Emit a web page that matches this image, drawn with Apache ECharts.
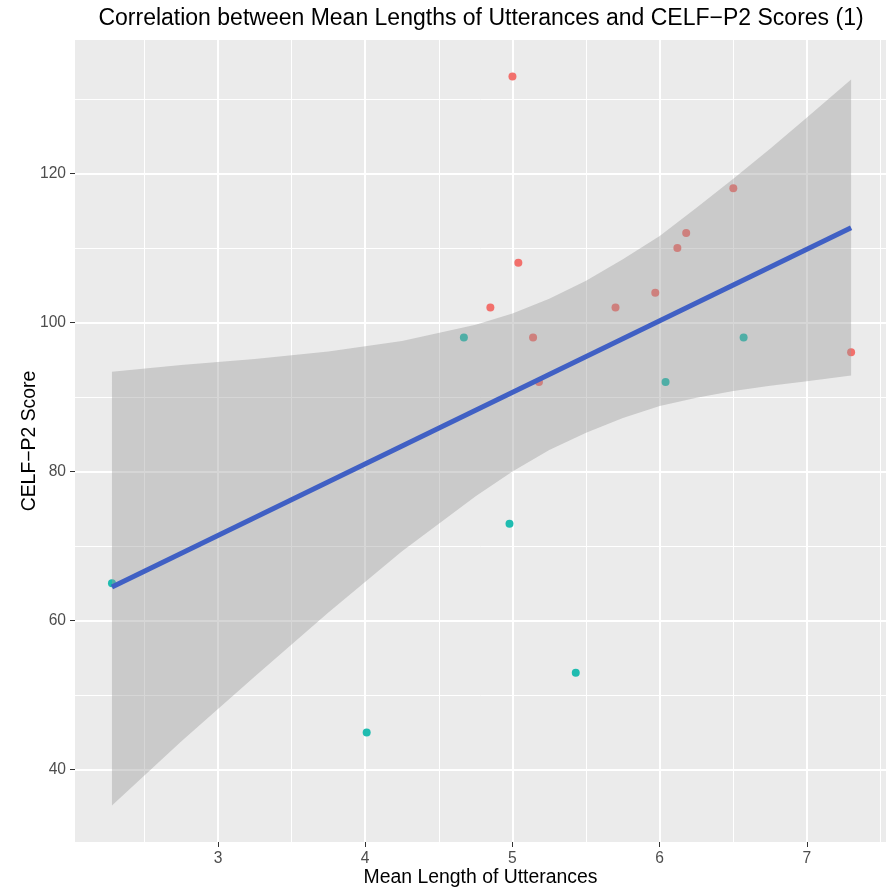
<!DOCTYPE html>
<html>
<head>
<meta charset="utf-8">
<script src="https://cdn.jsdelivr.net/npm/echarts@6/dist/echarts.min.js"></script>
<style>
  html, body { margin: 0; padding: 0; background: #ffffff; }
  #chart { width: 886px; height: 888px; }
</style>
</head>
<body>
<div id="chart"></div>
<script>
// Scatter groups: mean length of utterances (x) vs CELF-P2 score (y)
const groupAX = [5.00, 5.04, 4.85, 5.14, 5.18, 5.70, 5.97, 6.12, 6.18, 6.50, 7.30];
const groupAY = [133, 108, 102, 98, 92, 102, 104, 110, 112, 118, 96];
const groupBX = [2.28, 4.01, 4.67, 4.98, 5.43, 6.04, 6.57];
const groupBY = [65, 45, 98, 73, 53, 92, 98];

// Linear fit and its 95% confidence band
const fitX = [2.28, 7.30];
const fitY = [64.5, 112.7];
const bandX    = [2.28, 2.75, 3.25, 3.75, 4.25, 4.75, 5.00, 5.25, 5.50, 5.75, 6.00, 6.25, 6.50, 6.75, 7.00, 7.30];
const bandLow  = [35.2, 43.8, 52.5, 61.1, 69.3, 76.7, 80.0, 82.9, 85.2, 87.2, 88.8, 89.9, 90.8, 91.5, 92.1, 92.9];
const bandHigh = [93.4, 94.3, 95.1, 96.1, 97.5, 99.7, 101.2, 103.2, 105.6, 108.5, 111.6, 115.4, 119.3, 123.3, 127.5, 132.6];

// Axis breaks
const xMajor = [3, 4, 5, 6, 7];
const xMinor = [2.5, 3.5, 4.5, 5.5, 6.5, 7.5];
const yMajor = [40, 60, 80, 100, 120];
const yMinor = [50, 70, 90, 110, 130];

const FONT = '"Liberation Sans", Arial, sans-serif';
const chart = echarts.init(document.getElementById('chart'), null, { renderer: 'canvas' });

const zip = (xs, ys) => xs.map((x, i) => [x, ys[i]]);

const xRange = { min: 2.029, max: 7.537 };
const yRange = { min: 30.3, max: 137.9 };

const option = {
  animation: false,
  backgroundColor: '#ffffff',
  title: {
    text: 'Correlation between Mean Lengths of Utterances and CELF\u2212P2 Scores (1)',
    left: 481,
    top: 7,
    padding: 0,
    textAlign: 'center',
    textStyle: { fontFamily: FONT, fontSize: 23, fontWeight: 'normal', color: '#000000' }
  },
  grid: {
    left: 75, right: 0, top: 40, bottom: 46,
    show: true, backgroundColor: '#EBEBEB', borderWidth: 0,
    containLabel: false,
    outerBoundsMode: 'none'
  },
  xAxis: [
    {
      type: 'value', ...xRange,
      name: 'Mean Length of Utterances',
      nameLocation: 'middle', nameGap: 26, nameMoveOverlap: false,
      nameTextStyle: { fontFamily: FONT, fontSize: 19.4, color: '#000000' },
      axisLine: { show: false },
      axisTick: { show: true, customValues: xMajor, length: 5, lineStyle: { color: '#333333', width: 1 } },
      axisLabel: { customValues: xMajor, margin: 9, fontFamily: FONT, fontSize: 15.6, color: '#4D4D4D' },
      splitLine: { show: true, lineStyle: { color: '#ffffff', width: 2 } }
    },
    {
      type: 'value', ...xRange, position: 'top',
      axisLine: { show: false },
      axisTick: { show: false, customValues: xMinor },
      axisLabel: { show: false, customValues: xMinor },
      splitLine: { show: true, lineStyle: { color: '#ffffff', width: 1 } }
    }
  ],
  yAxis: [
    {
      type: 'value', ...yRange,
      name: 'CELF\u2212P2 Score',
      nameLocation: 'middle', nameGap: 36, nameMoveOverlap: false,
      nameTextStyle: { fontFamily: FONT, fontSize: 19.4, color: '#000000' },
      axisLine: { show: false },
      axisTick: { show: true, customValues: yMajor, length: 5, lineStyle: { color: '#333333', width: 1 } },
      axisLabel: { customValues: yMajor, margin: 9, fontFamily: FONT, fontSize: 15.6, color: '#4D4D4D' },
      splitLine: { show: true, lineStyle: { color: '#ffffff', width: 2 } }
    },
    {
      type: 'value', ...yRange, position: 'right',
      axisLine: { show: false },
      axisTick: { show: false, customValues: yMinor },
      axisLabel: { show: false, customValues: yMinor },
      splitLine: { show: true, lineStyle: { color: '#ffffff', width: 1 } }
    }
  ],
  series: [
    {
      name: 'Group A', type: 'scatter', z: 2,
      data: zip(groupAX, groupAY),
      symbol: 'circle', symbolSize: 8,
      itemStyle: { color: '#F2706C', opacity: 1 }
    },
    {
      name: 'Group B', type: 'scatter', z: 2,
      data: zip(groupBX, groupBY),
      symbol: 'circle', symbolSize: 8,
      itemStyle: { color: '#1FBCB0', opacity: 1 }
    },
    {
      name: 'Confidence band', type: 'custom', z: 3,
      data: [0],
      renderItem: (params, api) => {
        const upper = bandX.map((x, i) => api.coord([x, bandHigh[i]]));
        const lower = bandX.map((x, i) => api.coord([x, bandLow[i]])).reverse();
        return {
          type: 'polygon',
          shape: { points: upper.concat(lower) },
          style: { fill: 'rgba(153,153,153,0.4)', stroke: null }
        };
      },
      silent: true
    },
    {
      name: 'Linear fit', type: 'line', z: 4,
      data: zip(fitX, fitY),
      symbol: 'none',
      lineStyle: { color: '#4060C4', width: 5 },
      silent: true
    }
  ]
};

chart.setOption(option);
</script>
</body>
</html>
